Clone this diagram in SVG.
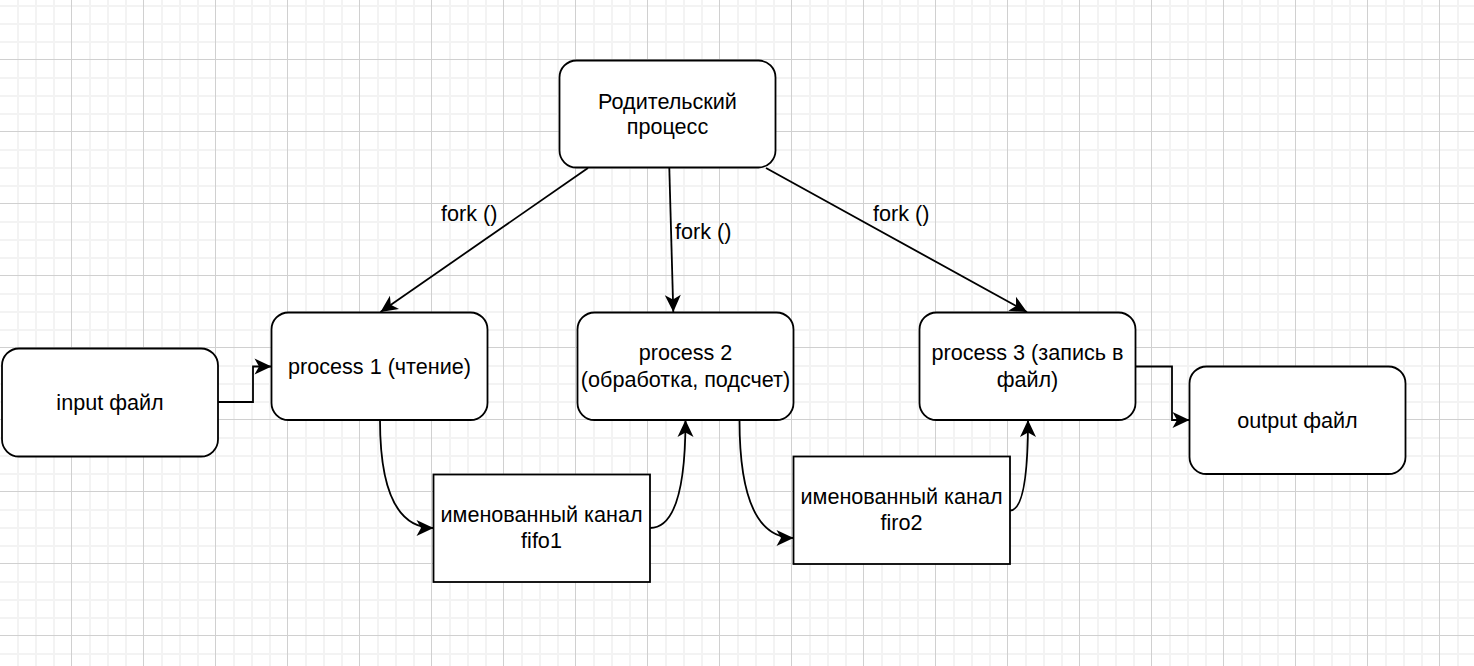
<svg xmlns="http://www.w3.org/2000/svg" width="1474" height="666" viewBox="0 0 1474 666">
<style>
.node{fill:#fff;stroke:#000;stroke-width:1.8}
.lbl{font-family:"Liberation Sans",Arial,sans-serif;font-size:21.6px;fill:#000;text-anchor:middle}
.flbl{font-family:"Liberation Sans",Arial,sans-serif;font-size:21.6px;fill:#000}
.edge{fill:none;stroke:#000;stroke-width:1.8}
</style>
<defs>
<pattern id="grid" patternUnits="userSpaceOnUse" x="71" y="59" width="72" height="72">
<rect x="18" y="0" width="2" height="72" fill="#f3f3f3"/>
<rect x="36" y="0" width="2" height="72" fill="#f3f3f3"/>
<rect x="54" y="0" width="2" height="72" fill="#f3f3f3"/>
<rect x="0" y="18" width="72" height="2" fill="#f3f3f3"/>
<rect x="0" y="36" width="72" height="2" fill="#f3f3f3"/>
<rect x="0" y="54" width="72" height="2" fill="#f3f3f3"/>
<rect x="0" y="0" width="1" height="72" fill="#d0d0d0"/>
<rect x="0" y="0" width="72" height="1" fill="#d0d0d0"/>
</pattern>
<marker id="arr" markerUnits="userSpaceOnUse" markerWidth="20" markerHeight="20" refX="17" refY="8" orient="auto" overflow="visible">
<path d="M17,8 L0,0 L4.5,8 L0,16 Z" fill="#000"/>
</marker>
</defs>
<rect width="1474" height="666" fill="#fff"/>
<rect width="1474" height="666" fill="url(#grid)"/>

<g id="connectors">
<path class="edge" d="M588,168 L380.5,312" marker-end="url(#arr)"/>
<path class="edge" d="M669.3,168 L673.3,312" marker-end="url(#arr)"/>
<path class="edge" d="M766,168 L1027,312" marker-end="url(#arr)"/>
<path class="edge" d="M218,402 L253,402 L253,366.5 L271.5,366.5" marker-end="url(#arr)"/>
<path class="edge" d="M380,420 Q380,528 433.5,528" marker-end="url(#arr)"/>
<path class="edge" d="M650,528 Q685.5,528 685.5,420" marker-end="url(#arr)"/>
<path class="edge" d="M739.5,420 Q739.5,538 793.5,538" marker-end="url(#arr)"/>
<path class="edge" d="M1010,510.5 Q1028,510.5 1028,420" marker-end="url(#arr)"/>
<path class="edge" d="M1136,366.5 L1172,366.5 L1172,420 L1189.5,420" marker-end="url(#arr)"/>
<text class="flbl" x="441" y="220.5">fork ()</text>
<text class="flbl" x="675" y="238.5">fork ()</text>
<text class="flbl" x="873" y="220.5">fork ()</text>
</g>

<g id="parent">
<rect class="node" x="559.5" y="60.5" width="216" height="107" rx="17" ry="17"/>
<text class="lbl" x="667.5" y="108.5">Родительский</text>
<text class="lbl" x="667.5" y="134">процесс</text>
</g>
<g id="input">
<rect class="node" x="2" y="348.5" width="216" height="108" rx="17" ry="17"/>
<text class="lbl" x="110" y="410">input файл</text>
</g>
<g id="process1">
<rect class="node" x="271.5" y="312.5" width="216" height="107.5" rx="17" ry="17"/>
<text class="lbl" x="379.5" y="373.5">process 1 (чтение)</text>
</g>
<g id="process2">
<rect class="node" x="577.5" y="312.5" width="216" height="107.5" rx="17" ry="17"/>
<text class="lbl" x="685.5" y="360">process 2</text>
<text class="lbl" x="685.5" y="386.5">(обработка, подсчет)</text>
</g>
<g id="process3">
<rect class="node" x="919.5" y="312.5" width="216" height="107.5" rx="17" ry="17"/>
<text class="lbl" x="1027.5" y="360">process 3 (запись в</text>
<text class="lbl" x="1027.5" y="386.5">файл)</text>
</g>
<g id="output">
<rect class="node" x="1189.5" y="366.5" width="216" height="107.5" rx="17" ry="17"/>
<text class="lbl" x="1297.5" y="427.5">output файл</text>
</g>
<g id="fifo1">
<rect class="node" x="433.5" y="474.5" width="216.5" height="107.5"/>
<text class="lbl" x="541.5" y="522">именованный канал</text>
<text class="lbl" x="541.5" y="548">fifo1</text>
</g>
<g id="firo2">
<rect class="node" x="793.5" y="456.5" width="216.5" height="107.5"/>
<text class="lbl" x="901.5" y="504">именованный канал</text>
<text class="lbl" x="901.5" y="530">firo2</text>
</g>
</svg>
